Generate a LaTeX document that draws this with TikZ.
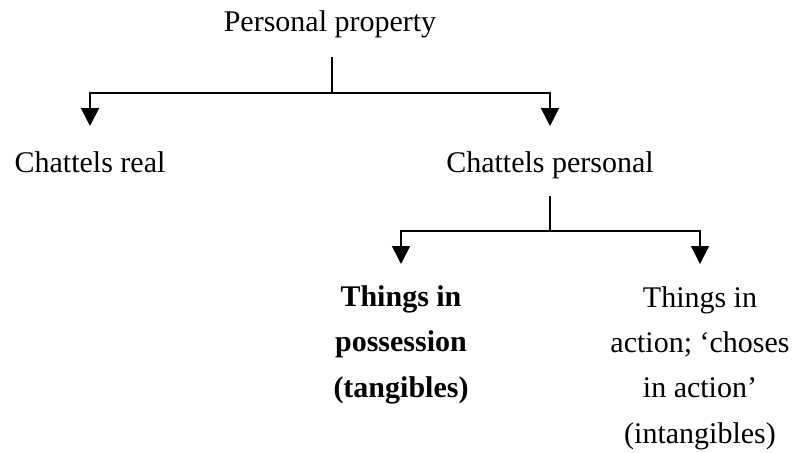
\documentclass[tikz,border=0pt]{standalone}
\usepackage{fontspec}
\setmainfont{Liberation Serif}
\usetikzlibrary{arrows.meta}
\begin{document}
\begin{tikzpicture}[x=1pt,y=-1pt,line width=1.6pt,
  lbl/.style={inner sep=0pt,font=\fontsize{30}{45.3}\selectfont,align=center},
  arr/.style={-{Triangle[length=18pt,width=18pt]}}]
\useasboundingbox (0,0) rectangle (794,452);
% texts
\node[lbl,anchor=base] (pp) at (330,32) {Personal property};
\node[lbl,anchor=base] (cr) at (90,172) {Chattels real};
\node[lbl,anchor=base] (cp) at (550,172) {Chattels personal};
\node[lbl,anchor=base,font=\fontsize{30}{45.3}\selectfont\bfseries] (tp) at (401,397) {Things in\\possession\\(tangibles)};
\node[lbl,anchor=base] (ta) at (700,443) {Things in\\action; ‘choses\\in action’\\(intangibles)};
% connector points
\coordinate (ppstem) at (332,57);
\coordinate (ppj) at (332,93);
\coordinate (crtip) at (90,126);
\coordinate (cptip) at (550,126);
\coordinate (cpstem) at (550,196);
\coordinate (cpj) at (550,231);
\coordinate (tptip) at (401,264);
\coordinate (tatip) at (700,264);
% connectors
\draw (ppstem) -- (ppj);
\draw[arr] (ppj) -| (crtip);
\draw[arr] (ppj) -| (cptip);
\draw (cpstem) -- (cpj);
\draw[arr] (cpj) -| (tptip);
\draw[arr] (cpj) -| (tatip);
\end{tikzpicture}
\end{document}
